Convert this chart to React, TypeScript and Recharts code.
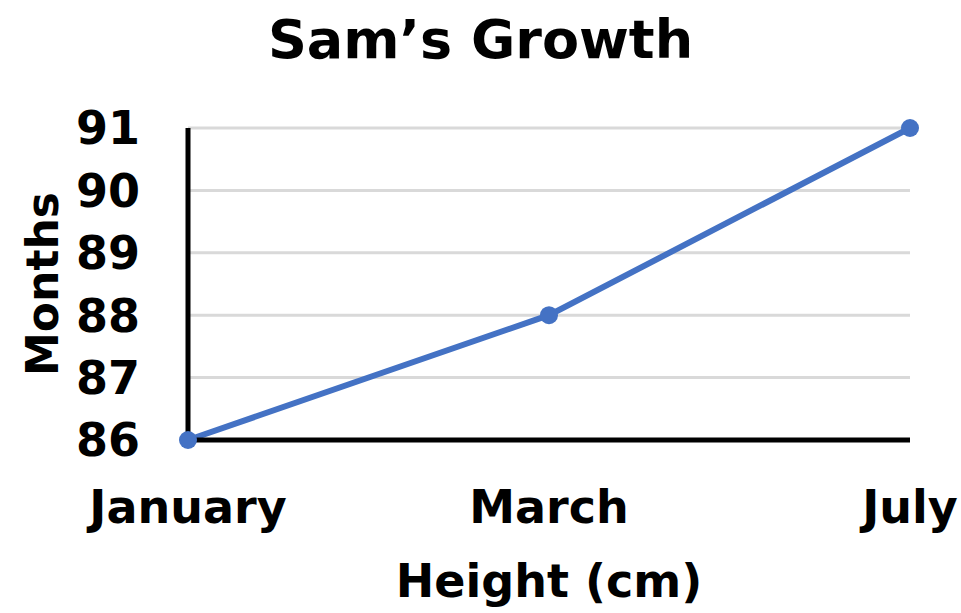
import React from "react";
import { LineChart, Line, XAxis, YAxis, CartesianGrid } from "recharts";

const months = ["January", "March", "July"];
const heights = [86, 88, 91];
const yTicks = [86, 87, 88, 89, 90, 91];

const FONT = "'DejaVu Sans', sans-serif";
const BLUE = "#4472C4";

const data = months.map((m, i) => ({ month: m, value: heights[i] }));

const YLabel = (props: any) => {
  const vb = props.viewBox || {};
  const cy = vb.y + vb.height / 2;
  return (
    <text
      x={42}
      y={cy}
      transform={`rotate(-90, 42, ${cy})`}
      textAnchor="middle"
      dominantBaseline="central"
      fontFamily={FONT}
      fontWeight={700}
      fontSize={44}
      fill="#000"
    >
      Months
    </text>
  );
};

export default function App() {
  return (
    <div
      style={{
        position: "absolute",
        left: 0,
        top: 0,
        width: 961,
        height: 613,
        background: "#fff",
        fontFamily: FONT,
      }}
    >
      <div
        style={{
          position: "absolute",
          top: 5,
          left: 0,
          width: 961,
          textAlign: "center",
          fontSize: 54,
          fontWeight: 700,
          lineHeight: "70px",
          color: "#000",
        }}
      >
        Sam’s Growth
      </div>
      <LineChart
        width={961}
        height={613}
        data={data}
        margin={{ top: 128, right: 51, bottom: 0, left: 0 }}
      >
        <CartesianGrid
          horizontal
          vertical={false}
          stroke="#d9d9d9"
          strokeWidth={3}
        />
        <XAxis
          dataKey="month"
          type="category"
          padding={{ left: 0, right: 0 }}
          height={173}
          tickLine={false}
          tickSize={0}
          tickMargin={50}
          axisLine={{ stroke: "#000", strokeWidth: 5 }}
          tick={{ fill: "#000", fontSize: 46, fontWeight: 700, fontFamily: FONT }}
          interval={0}
          label={{
            value: "Height (cm)",
            position: "insideBottom",
            offset: 16,
            fill: "#000",
            fontSize: 46,
            fontWeight: 700,
            fontFamily: FONT,
          }}
        />
        <YAxis
          type="number"
          domain={[86, 91]}
          ticks={yTicks}
          width={188}
          tickLine={false}
          tickSize={0}
          tickMargin={48}
          axisLine={{ stroke: "#000", strokeWidth: 5 }}
          tick={{ fill: "#000", fontSize: 46, fontWeight: 700, fontFamily: FONT }}
          label={<YLabel />}
        />
        <Line
          type="linear"
          dataKey="value"
          stroke={BLUE}
          strokeWidth={6}
          dot={{ r: 9, fill: BLUE, stroke: BLUE, strokeWidth: 0 }}
          isAnimationActive={false}
        />
      </LineChart>
    </div>
  );
}
